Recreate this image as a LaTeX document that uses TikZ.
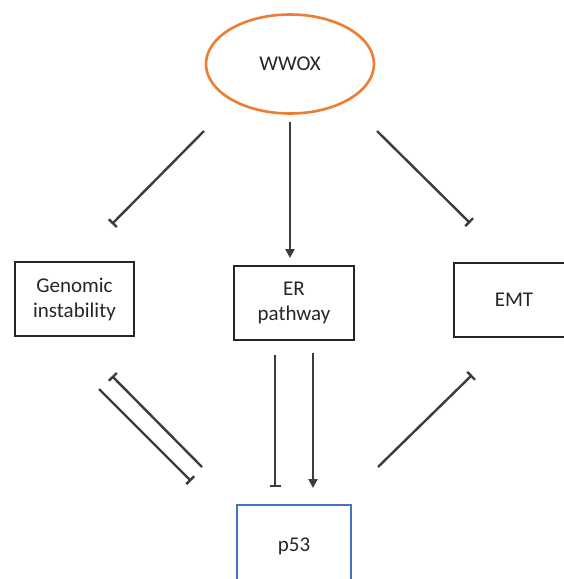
\documentclass[tikz,border=0pt]{standalone}
\usepackage{fontspec}
\setmainfont{Carlito}
\usetikzlibrary{arrows.meta,shapes.geometric}
\definecolor{lineg}{HTML}{3C3C3C}
\definecolor{orng}{HTML}{ED7D31}
\definecolor{blu}{HTML}{4472C4}
\tikzset{
  box/.style={draw=black!85, line width=2.7pt, rectangle, minimum width=119pt, minimum height=74pt, inner sep=0pt, align=center, font=\fontsize{21}{25}\selectfont, text=black!85},
  act/.style={draw=lineg, line width=2.4pt, -{Triangle[length=9pt,width=9pt]}},
  inh/.style={draw=lineg, line width=2.4pt, -{Bar[width=11pt,line width=2.4pt]}},
}
\begin{document}
\begin{tikzpicture}[x=1pt,y=-1pt]
\useasboundingbox (0,0) rectangle (564,579);
\node[ellipse, draw=orng, line width=2.6pt, minimum width=168pt, minimum height=99pt, inner sep=0pt, font=\fontsize{21}{25}\selectfont, text=black!85] (wwox) at (290,64) {WWOX};
\node[box] (gen) at (74.5,299) {Genomic\\instability};
\node[box, minimum width=120pt] (er) at (294,303) {ER\\pathway};
\node[box, minimum width=120pt] (emt) at (514,300) {EMT};
\node[box, draw=blu, minimum width=114pt, minimum height=82pt] (p53) at (294,546) {p53};
% endpoints
\coordinate (a1) at (204,131); \coordinate (a2) at (112,224);
\coordinate (b1) at (290,122); \coordinate (b2) at (290,258);
\coordinate (c1) at (377,131); \coordinate (c2) at (470,223);
\coordinate (d1) at (202,467); \coordinate (d2) at (112,376);
\coordinate (e1) at (99,389);  \coordinate (e2) at (191,481);
\coordinate (f1) at (275,355); \coordinate (f2) at (275,487);
\coordinate (g1) at (313,353); \coordinate (g2) at (313,488);
\coordinate (h1) at (378,467); \coordinate (h2) at (472,375);
\draw[inh] (a1) -- (a2);
\draw[act] (b1) -- (b2);
\draw[inh] (c1) -- (c2);
\draw[inh] (d1) -- (d2);
\draw[inh] (e1) -- (e2);
\draw[inh] (f1) -- (f2);
\draw[act] (g1) -- (g2);
\draw[inh] (h1) -- (h2);
\end{tikzpicture}
\end{document}
